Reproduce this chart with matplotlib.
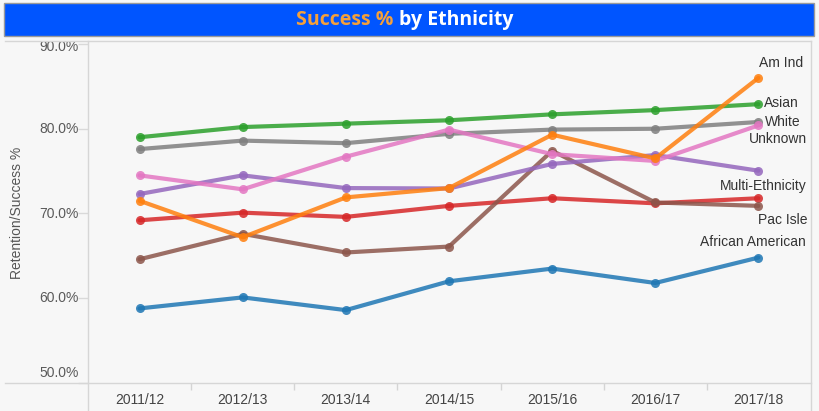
import matplotlib
matplotlib.use("Agg")
import matplotlib.pyplot as plt
from matplotlib.lines import Line2D
from matplotlib.patches import Rectangle
import matplotlib.transforms as mtransforms

years = ["2011/12", "2012/13", "2013/14", "2014/15", "2015/16", "2016/17", "2017/18"]

african_american = [58.8, 60.1, 58.6, 62.0, 63.5, 61.8, 64.8]
am_ind = [71.5, 67.2, 71.9, 73.0, 79.3, 76.5, 86.0]
asian = [79.0, 80.2, 80.6, 81.0, 81.7, 82.2, 82.9]
hispanic = [69.2, 70.1, 69.6, 70.9, 71.8, 71.2, 71.8]
multi_ethnicity = [72.3, 74.5, 73.0, 72.95, 75.85, 76.9, 75.05]
pac_isle = [64.6, 67.6, 65.4, 66.1, 77.4, 71.3, 70.9]
unknown = [74.5, 72.85, 76.7, 79.9, 77.0, 76.2, 80.4]
white = [77.6, 78.6, 78.3, 79.4, 79.9, 80.0, 80.8]

series_names = ["African American", "Am Ind", "Asian", "Hispanic",
                "Multi-Ethnicity", "Pac Isle", "Unknown", "White"]
series_values = [african_american, am_ind, asian, hispanic,
                 multi_ethnicity, pac_isle, unknown, white]
series_colors = ["#1f77b4", "#ff7f0e", "#2ca02c", "#d62728",
                 "#9467bd", "#8c564b", "#e377c2", "#7f7f7f"]
series_z = [2, 9, 8, 3, 5, 4, 7, 6]

# end labels: (pixel offset dx, dy, ha)
end_labels = {
    "Am Ind": (23, 15, "center"),
    "Asian": (6, 1, "left"),
    "White": (7, 0, "left"),
    "Unknown": (20, -14, "center"),
    "Multi-Ethnicity": (5, -15, "center"),
    "Pac Isle": (24, -14, "center"),
    "African American": (-6, 16, "center"),
}

yticks = [50, 60, 70, 80, 90]
ytick_labels = ["50.0%", "60.0%", "70.0%", "80.0%", "90.0%"]

W, H = 820, 411
bg = "#F7F7F7"
fig = plt.figure(figsize=(W / 100, H / 100), dpi=100, facecolor=bg)
font = ["Liberation Sans", "DejaVu Sans"]

def fx(px):
    return px / W

def fy(py):
    return 1 - py / H

ax = fig.add_axes([fx(88), fy(383), fx(810) - fx(88), fy(44) - fy(383)])
ax.set_facecolor(bg)

x = list(range(len(years)))
for name, vals, col, z in zip(series_names, series_values, series_colors, series_z):
    ax.plot(x, vals, color=col, lw=3.0, alpha=0.85, marker="o", ms=6.5,
            markeredgewidth=0, zorder=z, solid_capstyle="round")
    if name in end_labels:
        dx, dy, ha = end_labels[name]
        ax.annotate(name, xy=(x[-1], vals[-1]), xytext=(dx, dy),
                    textcoords="offset pixels", ha=ha, va="center",
                    fontsize=10, color="#333333", family=font, zorder=10)

ax.set_xlim(-0.5, len(years) - 0.5)
ax.set_ylim(50, 90)
for s in ax.spines.values():
    s.set_visible(False)

ax.set_xticks(x)
ax.set_xticklabels(years, fontsize=10, color="#444444", family=font)
ax.tick_params(axis="x", which="major", length=0, pad=7)
ax.set_xticks([i + 0.5 for i in x[:-1]], minor=True)
ax.tick_params(axis="x", which="minor", length=5, color="#d4d4d4", width=1)

ax.set_yticks(yticks)
ax.set_yticklabels([])
ax.tick_params(axis="y", length=7, color="#d9d9d9", width=1)
trans = mtransforms.blended_transform_factory(ax.transAxes, ax.transData)
offsets = {90: -3, 50: 10}
for yv, lab in zip(yticks, ytick_labels):
    off = mtransforms.ScaledTranslation(-9 / 100, offsets.get(yv, 0) / 100, fig.dpi_scale_trans)
    ax.text(0, yv, lab, transform=trans + off, ha="right", va="center",
            fontsize=10, color="#5a5a5a", family=font, clip_on=False)

fig.text(fx(17), fy(213), "Retention/Success %", rotation=90, ha="center",
         va="center", fontsize=10, color="#555555", family=font)

# frame lines
lc = "#d6d6d6"
fig.add_artist(Line2D([fx(5), fx(811)], [fy(41), fy(41)], color=lc, lw=1))
fig.add_artist(Line2D([fx(811), fx(811)], [fy(41), fy(410)], color=lc, lw=1))
fig.add_artist(Line2D([fx(88), fx(88)], [fy(41), fy(410)], color=lc, lw=1))
fig.add_artist(Line2D([fx(5), fx(811)], [fy(383), fy(383)], color=lc, lw=1))

# title bar
fig.add_artist(Rectangle((fx(4), fy(36)), fx(814) - fx(4), fy(3) - fy(36),
                         transform=fig.transFigure, facecolor="#0055FF",
                         edgecolor="#9a9a9a", lw=1))
fig.text(fx(393), fy(20), "Success %", ha="right", va="center", fontsize=14,
         fontweight="bold", color="#F5A03A", family=["Open Sans", "DejaVu Sans"])
fig.text(fx(399), fy(20), "by Ethnicity", ha="left", va="center", fontsize=14,
         fontweight="bold", color="white", family=["Open Sans", "DejaVu Sans"])

fig.savefig("out.png", dpi=100, facecolor=bg)
